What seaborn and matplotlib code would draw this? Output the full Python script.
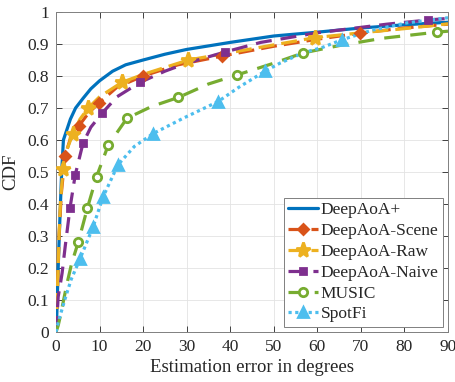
import matplotlib
matplotlib.use("Agg")
import matplotlib.pyplot as plt
from matplotlib.lines import Line2D
import numpy as np
import pandas as pd
import seaborn as sns

# CDF curves (x = error in degrees, y = CDF)
plus_x = [0, 0.2, 0.5, 0.8, 1.3, 1.7, 3.3, 4.5, 6.2, 8, 10, 13, 16, 20, 25, 30, 40, 50, 60, 70, 80, 90]
plus_y = [0, 0.06, 0.2, 0.32, 0.5, 0.6, 0.665, 0.7, 0.73, 0.76, 0.785, 0.815, 0.835, 0.85, 0.868, 0.883,
          0.905, 0.925, 0.937, 0.95, 0.96, 0.968]

scene_x = [0, 0.3, 0.7, 1.2, 2.07, 3.2, 5.3, 7.5, 9.9, 14, 20, 28, 38, 50, 60, 69.8, 80, 90]
scene_y = [0, 0.12, 0.3, 0.43, 0.55, 0.6, 0.645, 0.685, 0.716, 0.765, 0.80, 0.835, 0.862, 0.893, 0.915,
           0.934, 0.95, 0.962]
scene_mk = [4, 6, 8, 10, 12, 15]

raw_x = [0, 0.3, 0.7, 1.0, 1.6, 2.5, 3.9, 5.5, 7.4, 10, 15.1, 20, 30.4, 40, 47, 59.5, 70, 80, 90]
raw_y = [0, 0.12, 0.3, 0.4, 0.51, 0.57, 0.62, 0.665, 0.70, 0.735, 0.78, 0.805, 0.85, 0.873, 0.89, 0.92,
         0.935, 0.948, 0.963]
raw_mk = [4, 6, 8, 10, 12, 15]

naive_x = [0, 0.2, 0.5, 1.0, 1.4, 2.1, 3.2, 4.4, 6.2, 8, 10.6, 14, 19.3, 25, 30, 38.8, 47, 60, 70, 76,
           85.4, 90]
naive_y = [0, 0.04, 0.11, 0.15, 0.184, 0.266, 0.386, 0.49, 0.59, 0.64, 0.684, 0.735, 0.78, 0.815, 0.84,
           0.875, 0.905, 0.935, 0.952, 0.962, 0.975, 0.98]
naive_mk = [6, 7, 8, 10, 12, 15, 20]

music_x = [0, 0.5, 1, 1.6, 2.5, 3.6, 5.1, 7.2, 9.3, 12, 16.3, 22, 28.1, 35, 41.5, 50, 56.7, 65, 75, 87.4, 90]
music_y = [0, 0.02, 0.05, 0.09, 0.15, 0.215, 0.28, 0.387, 0.485, 0.584, 0.668, 0.705, 0.733, 0.775, 0.803,
           0.84, 0.872, 0.895, 0.918, 0.937, 0.94]
music_mk = [6, 7, 8, 9, 10, 12, 14, 16, 19]

spot_x = [0, 0.5, 2, 3.5, 5.5, 8.5, 10.8, 14.2, 18, 22.3, 29.2, 37.2, 42, 48, 51.4, 56.7, 61.3, 65.6, 72.8,
          80.5, 90]
spot_y = [0, 0.03, 0.1, 0.165, 0.228, 0.328, 0.422, 0.522, 0.58, 0.62, 0.668, 0.72, 0.765, 0.815, 0.84,
          0.872, 0.89, 0.913, 0.944, 0.966, 0.982]
spot_mk = [4, 5, 6, 7, 9, 11, 13, 17]

labels = ['DeepAoA+', 'DeepAoA-Scene', 'DeepAoA-Raw', 'DeepAoA-Naive', 'MUSIC', 'SpotFi']
x_ticks = list(range(0, 91, 10))
y_ticks = [0, 0.1, 0.2, 0.3, 0.4, 0.5, 0.6, 0.7, 0.8, 0.9, 1]
y_tick_labels = ['0', '0.1', '0.2', '0.3', '0.4', '0.5', '0.6', '0.7', '0.8', '0.9', '1']

sns.set_theme(style='white')
plt.rcParams['font.family'] = ['Liberation Serif', 'DejaVu Serif']

fig = plt.figure(figsize=(4.56, 3.82), dpi=100, facecolor='white')
ax = fig.add_axes([56 / 456, 50 / 382, 392 / 456, 320 / 382])

series = [
    (plus_x, plus_y, None, '#0072BD', '-', None, None, 0),
    (scene_x, scene_y, scene_mk, '#D95319', (0, (5, 2.2)), 'D', '#D95319', 5.5),
    (raw_x, raw_y, raw_mk, '#EDB120', (0, (5, 2.2)), '*', '#EDB120', 11),
    (naive_x, naive_y, naive_mk, '#7E2F8E', (0, (5, 2.8)), 's', '#7E2F8E', 5),
    (music_x, music_y, music_mk, '#77AC30', (0, (5, 3.2)), 'o', 'white', 6),
    (spot_x, spot_y, spot_mk, '#4DBEEE', (0, (1, 1.1)), '^', '#4DBEEE', 7.5),
]

handles = []
lw = 2.3
for (xs, ys, mk, col, ls, marker, mfc, ms), lab in zip(series, labels):
    df = pd.DataFrame({'x': xs, 'y': ys})
    sns.lineplot(data=df, x='x', y='y', ax=ax, color=col, linewidth=lw, sort=False,
                 estimator=None, legend=False, zorder=3)
    ax.lines[-1].set_linestyle(ls)
    ax.lines[-1].set_dash_capstyle('butt')
    if mk is not None:
        pts = df.iloc[mk]
        ax.plot(pts['x'], pts['y'], linestyle='none', marker=marker, markersize=ms,
                markerfacecolor=mfc, markeredgecolor=col, markeredgewidth=2.0, zorder=4)
    handles.append(Line2D([], [], color=col, linewidth=lw, linestyle='-' if marker is None else ls,
                          marker=marker, markersize=ms if marker else 0, markerfacecolor=mfc,
                          markeredgecolor=col, markeredgewidth=2.0))

ax.set_xlim(0, 90)
ax.set_ylim(0, 1)
ax.set_xticks(x_ticks)
ax.set_yticks(y_ticks)
ax.set_yticklabels(y_tick_labels)
ax.grid(True, color='#e3e3e3', linewidth=0.6, zorder=0)
ax.tick_params(direction='in', length=4, width=0.6, colors='#262626', labelsize=12.5,
               top=True, right=True, bottom=True, left=True, pad=5)
for s in ax.spines.values():
    s.set_color('#808080')
    s.set_linewidth(0.7)
ax.set_xlabel('Estimation error in degrees', fontsize=13.5, color='#262626', labelpad=3)
ax.set_ylabel('CDF', fontsize=13.5, color='#262626', labelpad=6)

leg = ax.legend(handles, labels, loc='lower right', fontsize=12.5, frameon=True, fancybox=False,
                framealpha=1, edgecolor='#808080', handlelength=1.7, handletextpad=0.15,
                labelspacing=0.27, borderpad=0.25, borderaxespad=0.3)
leg.get_frame().set_linewidth(0.7)

plt.savefig('out.png', dpi=100, facecolor='white')
